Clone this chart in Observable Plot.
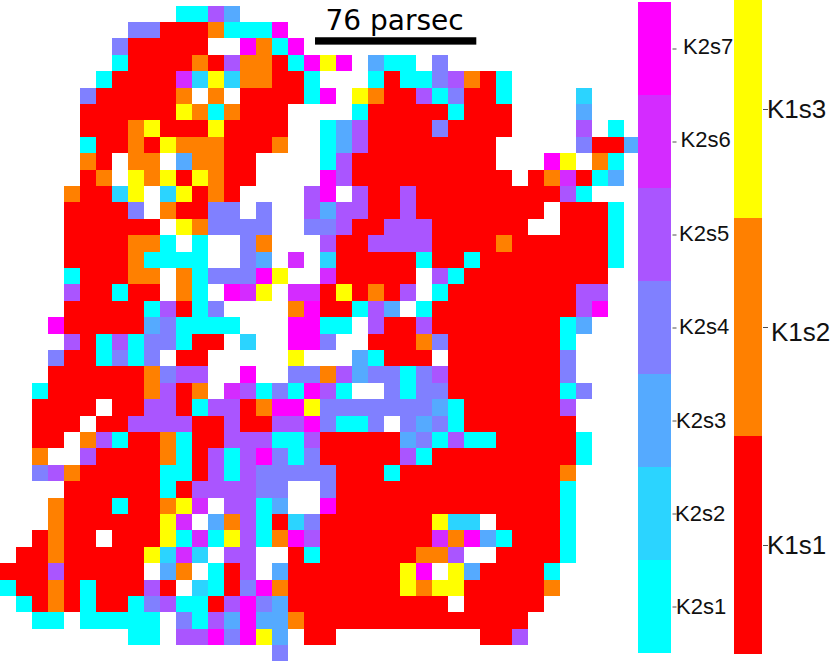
<!DOCTYPE html>
<html>
<head>
<meta charset="utf-8">
<script src="https://cdn.jsdelivr.net/npm/d3@7"></script>
<script src="https://cdn.jsdelivr.net/npm/@observablehq/plot@0.6"></script>
<style>
html,body{margin:0;padding:0;background:#fff;width:831px;height:661px;overflow:hidden}
#wrap{position:relative;width:831px;height:661px}
#wrap svg{position:absolute;top:0;display:block;background:transparent;overflow:visible}
</style>
</head>
<body>
<div id="wrap"></div>
<script>
// Class of each map pixel, one string per row: . = no data, 1-7 = K2s1..K2s7, R/O/Y = K1s1/K1s2/K1s3
const mapRows = [
"...........1153",
"........44RRRO1117",
".......4RRRRR..7O17",
".......1RRRROR5OOR17Y7.311.4",
"......1RRRR62Y2OORR1...1R1145OR1",
".....4RRRRRO.O.RRRR17.YORR514RR1....2",
".....RRRRRRYO1ORRR....1RRRRR1RRR....3",
".....RRROYRRRYRRRR..135RRRR4RRRR....5.1",
".....1RRORYOOORRRO..135RRRRRRRR.....4RR3",
".....OR.OO.3OORR....15RRRRRRRRR...7Y.O1",
".....RO.YOYRYORR....75RRRRRRRRRR.RO6R13",
"....ORR2Y.2YROR....57.5RR5RRRRRRRRR51",
"....RRRR4.ORR44.4..5355RR5RRRRRRRR.RRR1",
"....RRRRRR.YO4444..445RR555RRRRRR..RRR1",
"....RRRROO1.1..4O...5RR5555RRRRORRRRRR1",
"....RRRRO1111..43.6.2RRRRR1RR1RRRRRRRR1",
"....1RRROO.O14447Y..6RRRRR.51RRRRRRRRR",
"....5RR1RR.O1.76Y.66RYROR5.1RRRRRRRR55",
"....RRRRR15R14....O7RR153.1RRRRRRRRR57",
"...7RRRRR341111...7711.5RR5RRRRRRRR13",
"....5R151441RR.2..774..RRRO4RRRRRRR1",
"...4RR1414.RR.....Y...31RRR.RRRRRRR4",
"...RRRRRRO455..7..44O5344145RRRRRRR4",
"..1RRRRRRO5RO.65141751..4144RRRRRRR14",
"..RRRR.RR55R155RO77Y444444431RRRRRR5",
"..RRR.RR5555RR5RR5574114.4341RRRRRRR",
"..RR.O51RRO1RR555115RRRRR341511RRRRR1",
"..O..5RRRRO1R5157414RRRRR51RRRRRRRRR1",
"..45ORRRRR11R51544444RRR1RRRRRRRRRRO",
"....RRRRRR1R555544..4RRRRRRRRRRRRRR1",
"...ORRR1RROY6.5513..7RRRRRRRRRRRRRR1",
"...ORRRRRRY6.3O51R24RRRRRRRY22.RRRR1",
"..RORR.RRRY161Y51O75RRRRRRR6O731RRR1",
".RRORRRRRY262.55..R1RRRRRROO5..RRRR1",
"RRR5RRRRR.3O.1R5.3RRRRRRRY7.Y3RRRR1",
"1RROR1RRR5R.21R47ORRRRRRRYOYYRRRRRO",
".1ROR1RR14511R5743RRRRRRRRRR.RRRRR",
"..11.11111.4153733ORRRRRRRRRRRRRR",
"........11.55747Y3.RR.........RR5",
".................4"
];
const k2Classes = ["K2s1","K2s2","K2s3","K2s4","K2s5","K2s6","K2s7"];
const k2Colors  = ["#00ffff","#2bd4ff","#55aaff","#8080ff","#aa55ff","#d42bff","#ff00ff"];
const k1Classes = ["K1s1","K1s2","K1s3"];
const k1Colors  = ["#ff0000","#ff8000","#ffff00"];
const classOfCode = {"1":"K2s1","2":"K2s2","3":"K2s3","4":"K2s4","5":"K2s5","6":"K2s6","7":"K2s7",R:"K1s1",O:"K1s2",Y:"K1s3"};
const scaleBar = [{label:"76 parsec", from:19.72, to:29.8, row:1.93, rowEnd:2.38}];

const pixels = [];
mapRows.forEach((s,r)=>{ [...s].forEach((ch,c)=>{ if(ch!==".") pixels.push({c,r,cls:classOfCode[ch]}); }); });

const wrap = document.getElementById("wrap");

const map = Plot.plot({
  width:640, height:661, margin:0,
  x:{type:"linear",domain:[0,40],range:[-0.5,639.5],axis:null},
  y:{type:"linear",domain:[0,40],range:[5.6,661.6],axis:null},
  color:{type:"ordinal",domain:[...k2Classes,...k1Classes],range:[...k2Colors,...k1Colors]},
  marks:[
    Plot.rect(pixels,{x1:"c",x2:d=>d.c+1,y1:"r",y2:d=>d.r+1,fill:"cls",shapeRendering:"crispEdges"}),
    Plot.rect(scaleBar,{x1:"from",x2:"to",y1:"row",y2:"rowEnd",fill:"black"}),
    Plot.text(scaleBar,{x:d=>(d.from+d.to)/2-0.1,y:d=>d.row-0.45,text:"label",fontSize:28,lineAnchor:"bottom",fill:"black",fontFamily:"DejaVu Sans"})
  ]
});
map.style.left="0px";
wrap.append(map);

function colorBar(classes,colors,left,width,barW,tick,fontSize,labelOffset,labelShift){
  const p = Plot.plot({
    width, height:661, marginLeft:0, marginTop:0, marginBottom:0, marginRight:width-barW,
    x:{type:"band",domain:["bar"],range:[0,barW],padding:0,axis:null},
    y:{type:"band",domain:[...classes].reverse(),range:[0,654.7],padding:0},
    color:{type:"ordinal",domain:classes,range:colors},
    marks:[
      Plot.cell(classes,{x:()=>"bar",y:d=>d,fill:d=>d}),
      Plot.axisY({anchor:"right",label:null,tickSize:tick,tickFormat:()=>"",stroke:"#222",strokeWidth:0.8}),
      ...classes.map(k=>Plot.text([k],{y:d=>d,text:d=>d,frameAnchor:"right",textAnchor:"start",dx:labelOffset[k],dy:labelShift[k],fontSize,fill:"#111",fontFamily:"Liberation Sans"}))
    ]
  });
  p.style.left=left+"px";
  wrap.append(p);
}
colorBar(k2Classes,k2Colors,638,100,33.5,4,22,
  {K2s1:4,K2s2:3,K2s3:4,K2s4:7,K2s5:7,K2s6:8.5,K2s7:11},
  {K2s1:0,K2s2:0,K2s3:0,K2s4:-1,K2s5:-1,K2s6:-2,K2s7:-2});
colorBar(k1Classes,k1Colors,734.3,97,28,5,26,
  {K1s1:4.5,K1s2:8.5,K1s3:4.5},
  {K1s1:0,K1s2:5,K1s3:0});
</script>
</body>
</html>
